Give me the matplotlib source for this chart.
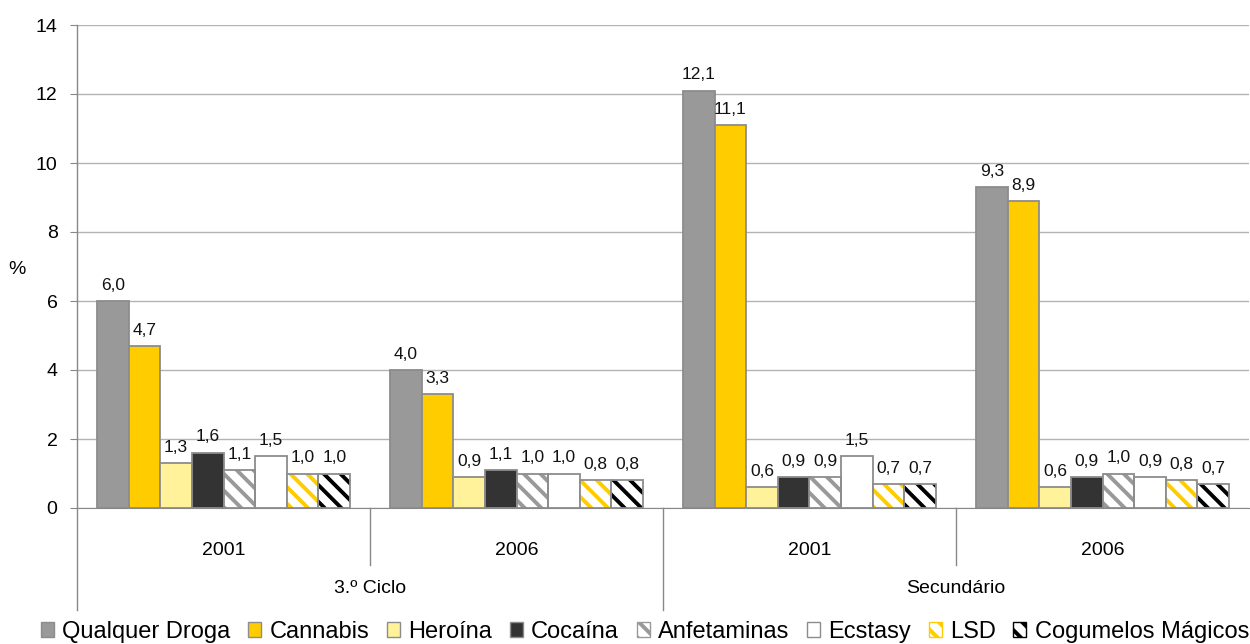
import numpy as np
import matplotlib
matplotlib.use("Agg")
import matplotlib.pyplot as plt
from matplotlib.patches import Patch
import matplotlib.transforms as mtransforms

plt.rcParams['font.family'] = ['Liberation Sans', 'DejaVu Sans']
plt.rcParams['hatch.linewidth'] = 2.8

# Consumo de drogas por nível de ensino e ano (%)
drugs = ['Qualquer Droga', 'Cannabis', 'Heroína', 'Cocaína',
         'Anfetaminas', 'Ecstasy', 'LSD', 'Cogumelos Mágicos']
years = ['2001', '2006', '2001', '2006']
levels = ['3.º Ciclo', 'Secundário']

ciclo_2001 = [6.0, 4.7, 1.3, 1.6, 1.1, 1.5, 1.0, 1.0]
ciclo_2006 = [4.0, 3.3, 0.9, 1.1, 1.0, 1.0, 0.8, 0.8]
sec_2001 = [12.1, 11.1, 0.6, 0.9, 0.9, 1.5, 0.7, 0.7]
sec_2006 = [9.3, 8.9, 0.6, 0.9, 1.0, 0.9, 0.8, 0.7]

groups = [ciclo_2001, ciclo_2006, sec_2001, sec_2006]

# fill colour, hatch colour (None = solid)
styles = [
    ('#999999', None),
    ('#ffcc00', None),
    ('#fff29a', None),
    ('#333333', None),
    ('white', '#999999'),
    ('white', None),
    ('white', '#ffcc00'),
    ('white', '#000000'),
]
edge = '#8c8c8c'

fig = plt.figure(figsize=(12.5, 6.44), dpi=100)
ax = fig.add_axes([77 / 1250, 136 / 644, 1172 / 1250, 483 / 644])

x = np.arange(len(groups))
width = 0.108
vals = np.array(groups)

for i, (fc, hc) in enumerate(styles):
    pos = x + (i - 3.5) * width
    heights = vals[:, i]
    if hc is None:
        ax.bar(pos, heights, width, color=fc, edgecolor=edge, linewidth=1.3, zorder=3)
    else:
        ax.bar(pos, heights, width, color='white', edgecolor=hc, hatch='\\\\',
               linewidth=0, zorder=3)
        ax.bar(pos, heights, width, fill=False, edgecolor=edge, linewidth=1.3, zorder=4)
    for px, h in zip(pos, heights):
        ax.annotate(f'{h:.1f}'.replace('.', ','), (px, h), xytext=(0, 6),
                    textcoords='offset points', ha='center', va='bottom',
                    fontsize=12.5, color='#111111')

ax.set_xlim(-0.5, 3.5)
ax.set_ylim(0, 14)
ax.set_yticks(np.arange(0, 15, 2))
ax.tick_params(axis='y', labelsize=14, length=5, color='#888888', pad=9)
ax.set_xticks([])
ax.yaxis.grid(True, color='#b3b3b3', linewidth=1)
ax.set_axisbelow(True)
for s in ['top', 'right', 'left']:
    ax.spines[s].set_visible(False)
ax.spines['bottom'].set_color('#888888')

# two-level category axis
tr = mtransforms.blended_transform_factory(ax.transData, ax.transAxes)
for xb, yb in [(-0.5, -0.211), (0.5, -0.118), (1.5, -0.211), (2.5, -0.118)]:
    ax.plot([xb, xb], [yb, 0 if xb != -0.5 else 1], color='#888888', lw=1,
            transform=tr, clip_on=False)
for xi, yr in zip(x, years):
    ax.text(xi, -0.087, yr, transform=tr, ha='center', va='center', fontsize=14)
for xi, lv in zip([0.5, 2.5], levels):
    ax.text(xi, -0.166, lv, transform=tr, ha='center', va='center', fontsize=14)

fig.text(17 / 1250, 1 - 270 / 644, '%', ha='center', va='center', fontsize=14)

handles = []
for (fc, hc), name in zip(styles, drugs):
    if hc is None:
        handles.append(Patch(facecolor=fc, edgecolor=edge, label=name))
    else:
        handles.append(Patch(facecolor='white', edgecolor=hc, hatch='\\\\', label=name))
fig.legend(handles=handles, loc='center', bbox_to_anchor=(0.516, 0.019), ncol=8,
           frameon=False, fontsize=17, handlelength=0.55, handleheight=0.55,
           handletextpad=0.35, columnspacing=0.75, borderaxespad=0)

fig.savefig('out.png', dpi=100)
